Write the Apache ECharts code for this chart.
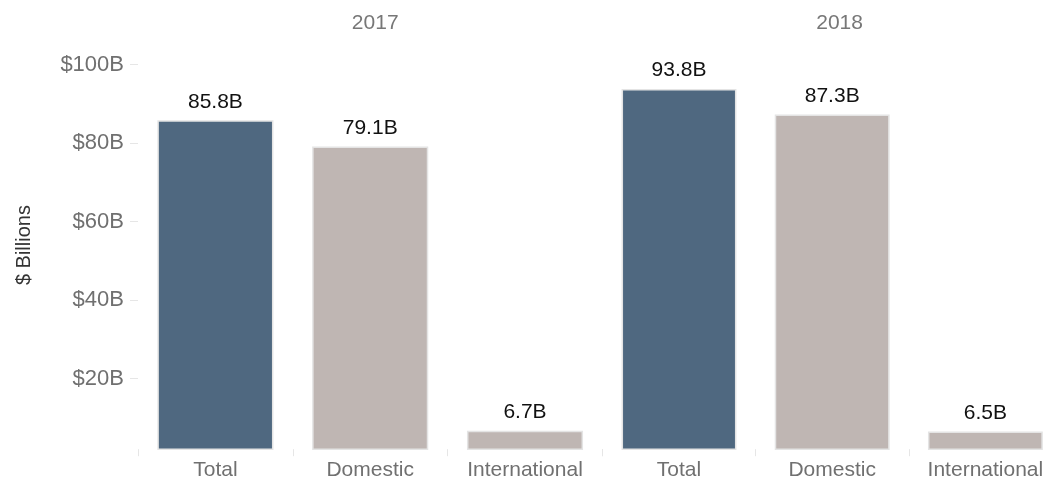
<!DOCTYPE html>
<html>
<head>
<meta charset="utf-8">
<script src="https://cdn.jsdelivr.net/npm/echarts@6/dist/echarts.min.js"></script>
<style>html,body{margin:0;padding:0;background:#fff;}#c{width:1062px;height:484px;}</style>
</head>
<body>
<div id="c"></div>
<script>
const years = ['2017', '2018'];
const categories = ['Total', 'Domestic', 'International'];
const values2017 = [85.8, 79.1, 6.7];
const values2018 = [93.8, 87.3, 6.5];
const yTicks = [20, 40, 60, 80, 100];

const FONT = 'Liberation Sans, Arial, sans-serif';
const colorFor = (c) => c === 'Total' ? '#4f6880' : '#bfb6b3';

function seriesData(vals) {
  return vals.map((v, i) => ({ value: v, itemStyle: { color: colorFor(categories[i]) } }));
}

const chart = echarts.init(document.getElementById('c'));
const gridTop = 41, gridBottom = 34.8, facetW = 464.4, left0 = 138;
const yMin = 2, yMax = 106;

const option = {
  animation: false,
  textStyle: { fontFamily: FONT },
  title: years.map((y, i) => ({
    text: y,
    left: left0 + facetW * i + facetW / 2,
    top: 8,
    textAlign: 'center',
    textStyle: { fontFamily: FONT, fontSize: 21, fontWeight: 'normal', color: '#777777' }
  })),
  grid: years.map((y, i) => ({
    left: left0 + facetW * i, top: gridTop, bottom: gridBottom, width: facetW, containLabel: false
  })),
  xAxis: years.map((y, i) => ({
    type: 'category', gridIndex: i, data: categories,
    axisLine: { show: false },
    axisTick: { show: true, alignWithLabel: false, length: 7, lineStyle: { color: '#e6e6e6', width: 1 } },
    axisLabel: { fontFamily: FONT, fontSize: 21, color: '#707070', margin: 11 }
  })),
  yAxis: years.map((y, i) => ({
    type: 'value', gridIndex: i, min: yMin, max: yMax,
    name: i === 0 ? '$ Billions' : '',
    nameLocation: 'middle', nameGap: 104,
    nameTextStyle: { fontFamily: FONT, fontSize: 20, color: '#333333' },
    splitLine: { show: false },
    axisLine: { show: false },
    axisTick: { show: i === 0, length: 8, customValues: yTicks, lineStyle: { color: '#e6e6e6', width: 1 } },
    axisLabel: {
      show: i === 0, customValues: yTicks, fontFamily: FONT, fontSize: 22, color: '#707070', margin: 14,
      formatter: (v) => '$' + v + 'B'
    }
  })),
  series: [values2017, values2018].map((vals, i) => ({
    type: 'bar', xAxisIndex: i, yAxisIndex: i,
    data: seriesData(vals),
    barWidth: '75%',
    itemStyle: { borderColor: '#e4e4e4', borderWidth: 1.5 },
    label: {
      show: true, position: 'top', distance: 8,
      fontFamily: FONT, fontSize: 21, color: '#111111',
      formatter: (p) => p.value.toFixed(1) + 'B'
    }
  }))
};
chart.setOption(option);
</script>
</body>
</html>
